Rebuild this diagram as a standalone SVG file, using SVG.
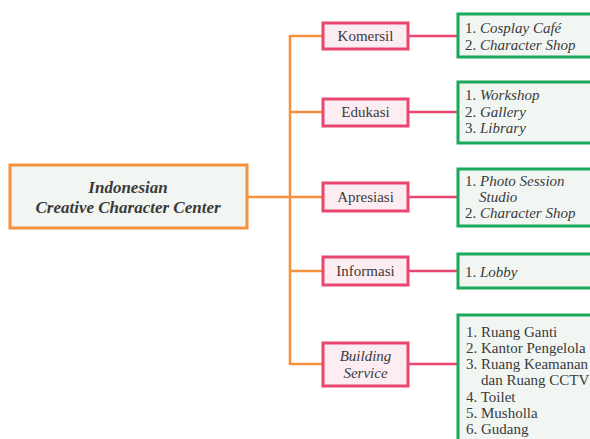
<svg xmlns="http://www.w3.org/2000/svg" width="590" height="439" viewBox="0 0 590 439">
<style>
.main{fill:#f1f6f2;stroke:#f5903d;stroke-width:3}
.cat{fill:#fcedf2;stroke:#e9476f;stroke-width:3}
.det{fill:#f1f6f3;stroke:#1aa85b;stroke-width:3}
.oc{stroke:#f5903d;stroke-width:2.5;fill:none}
.pc{stroke:#e9476f;stroke-width:2.5;fill:none}
text{font-family:"Liberation Serif","Times New Roman",serif;fill:#3a3a3a;font-size:15px}
.t{font-weight:bold;font-style:italic;font-size:17px}
.c{text-anchor:middle}
.i{font-style:italic}
</style>
<rect width="590" height="439" fill="#ffffff"/>
<g id="connectors">
<path class="oc" d="M247,197 H290 M290,35 V365 M290,36 H323 M290,112 H323 M290,197 H323 M290,271 H323 M290,364 H323"/>
<path class="pc" d="M408,36 H458 M408,112 H458 M408,197 H458 M408,271 H458 M408,364 H458"/>
</g>
<g id="center">
<rect class="main" x="10" y="165" width="237" height="63"/>
<text class="t c" x="128" y="193">Indonesian</text>
<text class="t c" x="128" y="213">Creative Character Center</text>
</g>
<g id="komersil">
<rect class="cat" x="323" y="23" width="85" height="26"/>
<text class="c" x="365.5" y="41">Komersil</text>
</g>
<g id="edukasi">
<rect class="cat" x="323" y="99" width="85" height="27"/>
<text class="c" x="365.5" y="117">Edukasi</text>
</g>
<g id="apresiasi">
<rect class="cat" x="323" y="183" width="85" height="28"/>
<text class="c" x="365.5" y="202">Apresiasi</text>
</g>
<g id="informasi">
<rect class="cat" x="323" y="257" width="85" height="28"/>
<text class="c" x="365.5" y="276">Informasi</text>
</g>
<g id="building-service">
<rect class="cat" x="323" y="343" width="85" height="43"/>
<text class="c i" x="365.5" y="361">Building</text>
<text class="c i" x="365.5" y="378">Service</text>
</g>
<g id="komersil-detail">
<rect class="det" x="458" y="14" width="140" height="43"/>
<text x="465" y="33">1. <tspan class="i">Cosplay Café</tspan></text>
<text x="465" y="50">2. <tspan class="i">Character Shop</tspan></text>
</g>
<g id="edukasi-detail">
<rect class="det" x="458" y="82" width="140" height="61"/>
<text x="465" y="100">1. <tspan class="i">Workshop</tspan></text>
<text x="465" y="117">2. <tspan class="i">Gallery</tspan></text>
<text x="465" y="133">3. <tspan class="i">Library</tspan></text>
</g>
<g id="apresiasi-detail">
<rect class="det" x="458" y="169" width="140" height="57"/>
<text x="465" y="186">1. <tspan class="i">Photo Session</tspan></text>
<text x="479" y="202" class="i">Studio</text>
<text x="465" y="218">2. <tspan class="i">Character Shop</tspan></text>
</g>
<g id="informasi-detail">
<rect class="det" x="458" y="254" width="140" height="34"/>
<text x="465" y="277">1. <tspan class="i">Lobby</tspan></text>
</g>
<g id="building-detail">
<rect class="det" x="458" y="315" width="140" height="140"/>
<text x="466" y="337">1. Ruang Ganti</text>
<text x="466" y="353">2. Kantor Pengelola</text>
<text x="466" y="369">3. Ruang Keamanan</text>
<text x="481" y="385">dan Ruang CCTV</text>
<text x="466" y="402">4. Toilet</text>
<text x="466" y="418">5. Musholla</text>
<text x="466" y="434">6. Gudang</text>
</g>
</svg>
